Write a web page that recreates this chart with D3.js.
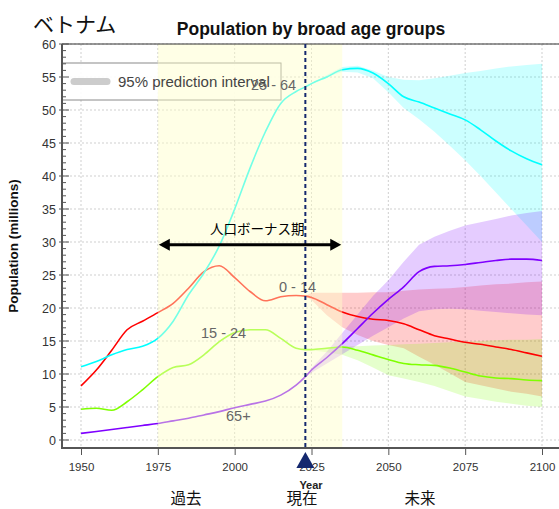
<!DOCTYPE html>
<html>
<head>
<meta charset="utf-8">
<script src="https://cdn.jsdelivr.net/npm/d3@7"></script>
<style>
  body { margin: 0; background: #fff; }
  svg { display: block; font-family: "Liberation Sans", Arial, sans-serif; }
  .jp { font-family: "Noto Sans CJK JP", sans-serif; }
</style>
</head>
<body>
<svg id="chart" width="559" height="509"></svg>
<script>
// data (millions)
var years = [1950,1955,1960,1965,1970,1975,1980,1985,1990,1995,2000,2005,2010,2015,2020,2023,
             2025,2030,2035,2040,2045,2050,2055,2060,2065,2070,2075,2080,2085,2090,2095,2100];
var age0_14  = [8.2,10.6,13.6,16.7,18.0,19.3,20.7,23.0,25.5,26.4,24.6,22.5,21.1,21.7,21.9,21.8,
                21.6,20.5,19.4,18.7,18.3,18.1,17.6,16.7,15.8,15.3,14.8,14.5,14.1,13.7,13.2,12.7];
var age15_24 = [4.65,4.8,4.5,5.8,7.6,9.6,11.0,11.4,12.9,14.9,16.3,16.7,16.7,15.4,13.9,13.7,
                13.7,13.9,14.1,13.6,12.9,12.2,11.6,11.4,11.3,10.9,10.3,9.7,9.4,9.3,9.1,9.0];
var age25_64 = [11.1,11.9,12.9,13.7,14.2,15.4,18.0,22.0,25.3,29.4,35.0,41.2,46.7,51.0,52.8,53.5,
                54.0,55.0,56.1,56.3,55.6,54.0,52.0,51.2,50.3,49.4,48.5,47.0,45.3,43.8,42.6,41.7];
var age65    = [1.0,1.3,1.6,1.9,2.2,2.5,2.9,3.3,3.8,4.3,4.9,5.4,5.9,6.8,8.3,9.6,
                10.6,12.5,14.6,16.9,19.2,21.3,23.2,25.5,26.3,26.4,26.6,26.9,27.2,27.4,27.4,27.2];

// 95% prediction intervals
var yearsF = [2023,2025,2030,2035,2040,2045,2050,2055,2060,2065,2070,2075,2080,2085,2090,2095,2100];
var lo0_14  = [21.8,21.2,18.9,17.1,15.9,15.0,14.4,13.9,12.6,11.4,10.1,8.8,8.3,7.8,7.3,7.0,6.6];
var hi0_14  = [21.8,22.3,22.3,22.3,22.3,22.4,22.4,22.6,22.8,22.9,23.0,23.2,23.4,23.6,23.7,23.9,24.0];
var lo15_24 = [13.7,13.6,13.3,12.9,12.1,11.0,9.8,9.3,8.8,8.2,7.4,6.6,6.2,5.8,5.5,5.2,5.0];
var hi15_24 = [13.7,13.8,14.0,14.2,14.2,14.3,14.4,14.5,14.6,14.7,14.8,14.9,15.0,15.1,15.2,15.2,15.3];
var lo25_64 = [53.5,54.0,55.0,55.8,55.7,54.8,52.7,50.3,48.6,46.7,44.6,42.4,40.0,37.5,35.0,32.5,30.0];
var hi25_64 = [53.5,54.1,55.3,56.5,56.7,56.0,55.0,54.6,54.5,54.8,55.2,55.6,55.9,56.3,56.6,56.8,57.0];
var lo65    = [9.6,10.2,11.6,13.0,14.4,15.8,17.1,18.4,19.5,19.8,19.9,19.8,19.6,19.4,19.2,19.0,18.9];
var hi65    = [9.6,10.9,13.4,16.2,19.0,21.8,24.2,27.0,29.6,30.8,31.7,32.5,33.0,33.5,34.0,34.4,34.7];

var groupNames  = ["0 - 14", "15 - 24", "25 - 64", "65+"];
var groupColors = ["#ff0000", "#7fff00", "#00ffff", "#7f00ff"];
var xTicks = [1950,1975,2000,2025,2050,2075,2100];
var yTicks = d3.range(0, 61, 5);
var nowYear = 2023, bonusStart = 1975, bonusEnd = 2035;

(function(){
  var svg = d3.select("#chart");
  var pLeft = 62, pRight = 559, pTop = 44, pBottom = 448;

  var x = d3.scaleLinear().domain([1950, 2100]).range([81, 542]);
  var y = d3.scaleLinear().domain([0, 60]).range([440, 44]);

  // grid
  svg.append("g").selectAll("line").data(yTicks).enter().append("line")
    .attr("x1", pLeft).attr("x2", pRight)
    .attr("y1", function(d){ return y(d); }).attr("y2", function(d){ return y(d); })
    .attr("stroke", "#cfcfcf").attr("stroke-dasharray", "2,2");
  svg.append("g").selectAll("line").data(xTicks).enter().append("line")
    .attr("x1", function(d){ return x(d); }).attr("x2", function(d){ return x(d); })
    .attr("y1", pTop).attr("y2", pBottom)
    .attr("stroke", "#cfcfcf").attr("stroke-dasharray", "2,2");

  // bands
  var series = [
    {vals: age0_14, lo: lo0_14, hi: hi0_14},
    {vals: age15_24, lo: lo15_24, hi: hi15_24},
    {vals: age25_64, lo: lo25_64, hi: hi25_64},
    {vals: age65, lo: lo65, hi: hi65}
  ];
  var area = d3.area()
    .x(function(d){ return x(d.year); })
    .y0(function(d){ return y(d.lo); })
    .y1(function(d){ return y(d.hi); });
  series.forEach(function(s, i){
    var pts = yearsF.map(function(yr, j){ return {year: yr, lo: s.lo[j], hi: s.hi[j]}; });
    svg.append("path").datum(pts)
      .attr("d", area)
      .attr("fill", groupColors[i]).attr("fill-opacity", 0.2);
  });

  // lines
  var line = d3.line()
    .x(function(d, j){ return x(years[j]); })
    .y(function(d){ return y(d); })
    .curve(d3.curveMonotoneX);
  series.forEach(function(s, i){
    svg.append("path").datum(s.vals)
      .attr("d", line)
      .attr("fill", "none")
      .attr("stroke", groupColors[i])
      .attr("stroke-width", 1.6);
  });

  // legend box
  svg.append("rect")
    .attr("x", pLeft).attr("y", 63).attr("width", 219).attr("height", 37)
    .attr("fill", "#fff").attr("fill-opacity", 0.9)
    .attr("stroke", "#8a8a8a").attr("stroke-width", 1);

  // demographic bonus period, drawn over the lines
  svg.append("rect")
    .attr("x", x(bonusStart)).attr("y", pTop)
    .attr("width", x(bonusEnd) - x(bonusStart)).attr("height", pBottom - pTop)
    .attr("fill", "rgb(255,255,200)").attr("fill-opacity", 0.45);

  // legend entry
  svg.append("line")
    .attr("x1", 74).attr("x2", 107).attr("y1", 81.5).attr("y2", 81.5)
    .attr("stroke", "#cccccc").attr("stroke-width", 7).attr("stroke-linecap", "round");
  svg.append("text").attr("x", 118).attr("y", 87)
    .attr("font-size", 15).attr("fill", "#444").text("95% prediction interval");

  // group labels
  var labelPos = [[279, 292], [201, 338], [251, 90], [226, 421]];
  groupNames.forEach(function(n, i){
    svg.append("text").attr("x", labelPos[i][0]).attr("y", labelPos[i][1])
      .attr("font-size", 14.5).attr("fill", "#666").text(n);
  });

  // axes
  svg.append("line").attr("x1", pLeft).attr("x2", pRight).attr("y1", pTop).attr("y2", pTop)
    .attr("stroke", "#333").attr("stroke-width", 1);
  var yAxis = svg.append("g").attr("transform", "translate(" + pLeft + ",0)")
    .call(d3.axisLeft(y).tickValues(yTicks).tickSize(0).tickPadding(6));
  yAxis.select(".domain").remove();
  yAxis.selectAll("text").attr("font-size", 12.5).attr("fill", "#333")
    .attr("font-family", "Liberation Sans, Arial, sans-serif");
  svg.append("g").selectAll("line").data(d3.range(0, 61, 1)).enter().append("line")
    .attr("x1", function(d){ return d % 5 === 0 ? pLeft - 3 : pLeft; })
    .attr("x2", function(d){ return d % 5 === 0 ? pLeft + 7 : pLeft + 4; })
    .attr("y1", function(d){ return y(d); }).attr("y2", function(d){ return y(d); })
    .attr("stroke", "#555").attr("stroke-width", 1);
  svg.append("line").attr("x1", pLeft).attr("x2", pLeft).attr("y1", pTop).attr("y2", pBottom + 1)
    .attr("stroke", "#555").attr("stroke-width", 2);

  var xAxis = svg.append("g").attr("transform", "translate(0," + pBottom + ")")
    .call(d3.axisBottom(x).tickValues(xTicks).tickFormat(d3.format("d")).tickSize(7).tickPadding(8));
  xAxis.select(".domain").remove();
  xAxis.selectAll("line").attr("stroke", "#555");
  xAxis.selectAll("text").attr("font-size", 11.5).attr("fill", "#333")
    .attr("font-family", "Liberation Sans, Arial, sans-serif");
  svg.append("line").attr("x1", pLeft).attr("x2", pRight).attr("y1", pBottom).attr("y2", pBottom)
    .attr("stroke", "#555").attr("stroke-width", 2);

  // current year
  svg.append("line")
    .attr("x1", x(nowYear)).attr("x2", x(nowYear)).attr("y1", pTop).attr("y2", pBottom)
    .attr("stroke", "#14286e").attr("stroke-width", 2).attr("stroke-dasharray", "4,3");
  svg.append("path")
    .attr("d", "M" + x(nowYear) + "," + 452 + "l9,16l-18,0z")
    .attr("fill", "#14286e");

  // arrow
  var ay = y(29.6);
  svg.append("line").attr("x1", x(bonusStart) + 8).attr("x2", x(bonusEnd) - 8)
    .attr("y1", ay).attr("y2", ay).attr("stroke", "#000").attr("stroke-width", 3);
  svg.append("path").attr("d", "M" + (x(bonusStart) + 1) + "," + ay + "l11,-6l0,12z").attr("fill", "#000");
  svg.append("path").attr("d", "M" + (x(bonusEnd) - 1) + "," + ay + "l-11,-6l0,12z").attr("fill", "#000");
  svg.append("text").attr("class", "jp").attr("x", 210).attr("y", 234)
    .attr("font-size", 13.5).attr("fill", "#000").text("人口ボーナス期");

  // titles
  svg.append("text").attr("x", 311).attr("y", 35).attr("text-anchor", "middle")
    .attr("font-size", 17.5).attr("font-weight", "bold").attr("fill", "#111")
    .text("Population by broad age groups");
  svg.append("text").attr("class", "jp").attr("x", 33).attr("y", 32)
    .attr("font-size", 21).attr("fill", "#111").text("ベトナム");
  svg.append("text").attr("transform", "translate(18,246) rotate(-90)")
    .attr("text-anchor", "middle").attr("font-size", 13.5).attr("font-weight", "bold")
    .attr("fill", "#111").text("Population (millions)");
  svg.append("text").attr("x", 311).attr("y", 489).attr("text-anchor", "middle")
    .attr("font-size", 11).attr("font-weight", "bold").attr("fill", "#222").text("Year");

  var periods = [["過去", 186], ["現在", 302], ["未来", 420]];
  periods.forEach(function(p){
    svg.append("text").attr("class", "jp").attr("x", p[1]).attr("y", 504)
      .attr("text-anchor", "middle").attr("font-size", 15.5).attr("fill", "#111").text(p[0]);
  });
})();
</script>
</body>
</html>
